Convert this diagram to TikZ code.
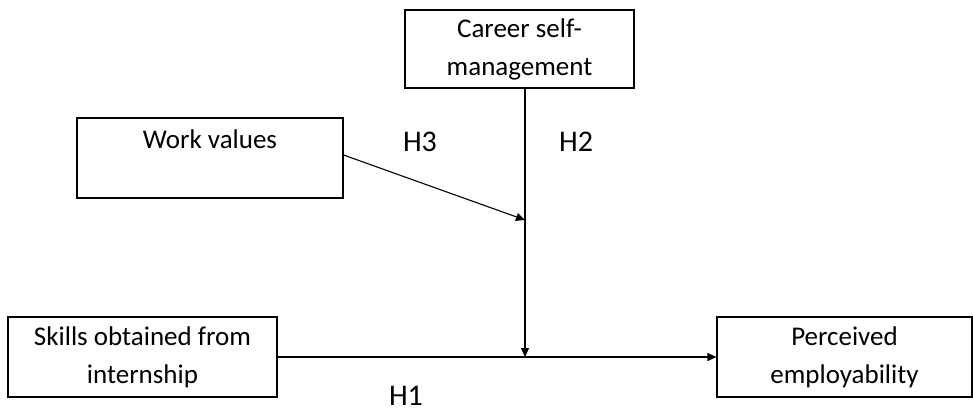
\documentclass[tikz,border=0pt]{standalone}
\usepackage{fontspec}
\setmainfont{Carlito}
\usetikzlibrary{arrows.meta,positioning}

\begin{document}
\begin{tikzpicture}[x=1pt,y=-1pt,
	box/.style={draw, line width=1.1pt, align=center, inner sep=0pt, font=\fontsize{27}{38}\selectfont},
	link/.style={line width=1.1pt, -{Triangle[length=9pt,width=8pt]}},
	hyp/.style={inner sep=0pt, font=\fontsize{30}{34}\selectfont}]
	\useasboundingbox (0,0) rectangle (973,414);
	\node [box, minimum width=229pt, minimum height=78pt] (career) at (519.5,49) {Career self-\\management};
	\node [box, minimum width=266pt, minimum height=80pt] (work) at (210,158) {Work values\\\mbox{}};
	\node [box, minimum width=269pt, minimum height=80pt] (skills) at (142.5,357) {Skills obtained from\\internship};
	\node [box, minimum width=255pt, minimum height=80pt] (perceived) at (844.5,357) {Perceived\\employability};
	\coordinate (top) at ([xshift=5.5pt]career.south);
	\coordinate (mod) at (top |- 0,220);
	\coordinate (main) at (top |- skills.east);
	\draw [link] (skills) -- (perceived);
	\draw [link] (top) -- (main);
	\draw [link] ([yshift=3pt]work.east) -- (mod);
	\node [hyp] (h3) at (420,142) {H3};
	\node [hyp] (h2) at (576,142) {H2};
	\node [hyp] (h1) at (406,396) {H1};
\end{tikzpicture}
\end{document}
